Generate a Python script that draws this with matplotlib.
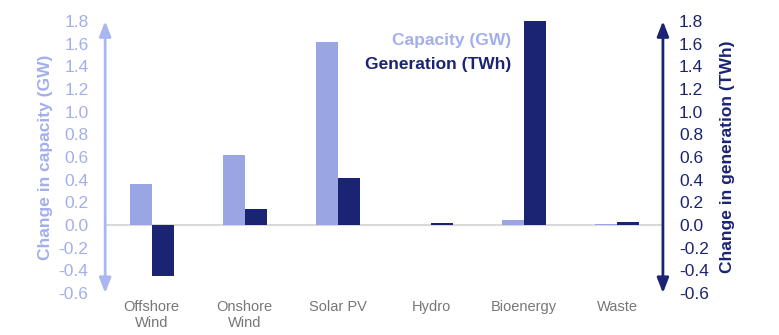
import matplotlib
matplotlib.use("Agg")
import matplotlib.pyplot as plt
import numpy as np

categories = ["Offshore\nWind", "Onshore\nWind", "Solar PV", "Hydro", "Bioenergy", "Waste"]
capacity_gw = [0.36, 0.62, 1.62, 0.0, 0.045, 0.01]
generation_twh = [-0.45, 0.14, 0.42, 0.02, 1.8, 0.026]
yticks = [-0.6, -0.4, -0.2, 0.0, 0.2, 0.4, 0.6, 0.8, 1.0, 1.2, 1.4, 1.6, 1.8]

cap_color = "#9AA6E4"
gen_color = "#1B2472"
cap_text = "#A3AFEC"
grey = "#777777"

plt.rcParams['font.family'] = ['Liberation Sans', 'DejaVu Sans']

fig = plt.figure(figsize=(7.79, 3.35), dpi=100)
ax = fig.add_axes([0.135, 0.125, 0.717, 0.812])
x = np.arange(len(categories))
w = 0.236
ax.bar(x - w / 2, capacity_gw, width=w, color=cap_color, zorder=3)
ax.bar(x + w / 2, generation_twh, width=w, color=gen_color, zorder=3)
ax.set_xlim(-0.5, 5.5)
ax.set_ylim(-0.6, 1.8)
ax.axhline(0, color="#D9D9D9", lw=1.5, zorder=2)

for s in ax.spines.values():
    s.set_visible(False)
ax.set_xticks(x)
ax.set_xticklabels(categories, color=grey, fontsize=10.5, linespacing=1.15)
ax.tick_params(axis='x', length=0, pad=5)
ax.set_yticks(yticks)
ax.set_yticklabels([f"{v:.1f}" for v in yticks], color=cap_text, fontsize=12.5)
ax.tick_params(axis='y', length=0, pad=12)
ax.set_ylabel("Change in capacity (GW)", color=cap_text, fontsize=12.5, fontweight='bold')
ax.yaxis.set_label_coords(-0.093, 0.5)

ax2 = ax.twinx()
ax2.set_ylim(-0.6, 1.8)
for s in ax2.spines.values():
    s.set_visible(False)
ax2.set_yticks(yticks)
ax2.set_yticklabels([f"{v:.1f}" for v in yticks], color=gen_color, fontsize=12.5)
ax2.tick_params(axis='y', length=0, pad=11)
ax2.set_ylabel("Change in generation (TWh)", color=gen_color, fontsize=12.5, fontweight='bold')
ax2.yaxis.set_label_coords(1.101, 0.5)

ax.annotate("", xy=(0.0, 1.0), xytext=(0.0, 0.0), xycoords='axes fraction',
            arrowprops=dict(arrowstyle='<|-|>,head_length=0.9,head_width=0.35', color="#A9B6F0", lw=2, shrinkA=0, shrinkB=0))
ax.annotate("", xy=(0.9986, 1.0), xytext=(0.9986, 0.0), xycoords='axes fraction',
            arrowprops=dict(arrowstyle='<|-|>,head_length=0.9,head_width=0.35', color=gen_color, lw=2, shrinkA=0, shrinkB=0))

fig.text(511 / 779, 1 - 40 / 335, "Capacity (GW)", ha='right', va='center', color=cap_text,
         fontsize=12.5, fontweight='bold')
fig.text(511 / 779, 1 - 65 / 335, "Generation (TWh)", ha='right', va='center', color=gen_color,
         fontsize=12.5, fontweight='bold')

fig.savefig("out.png", dpi=100)
